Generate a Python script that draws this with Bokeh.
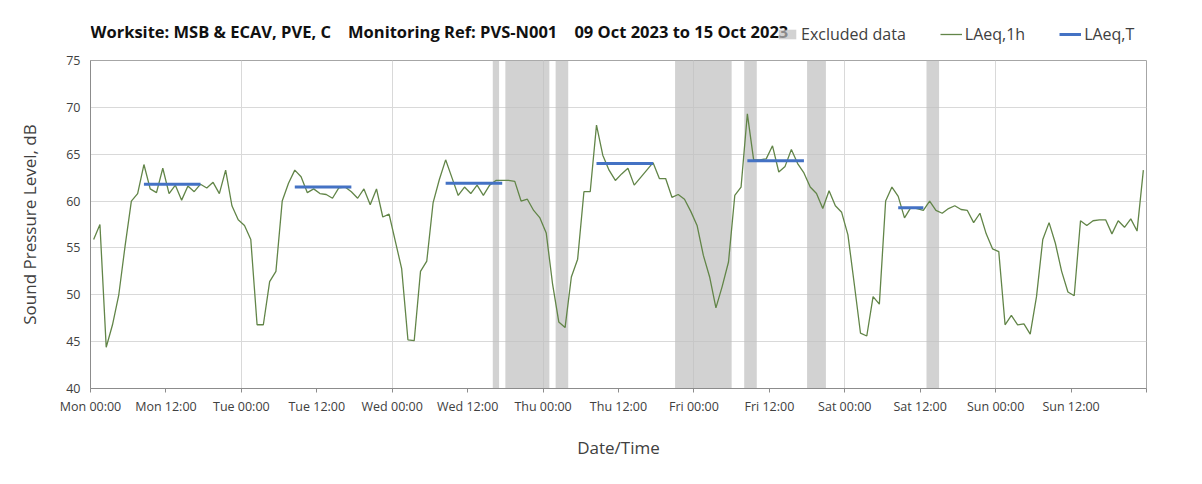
from bokeh.plotting import figure
from bokeh.models import Legend, LegendItem, FixedTicker, Range1d, ColumnDataSource, Label
from bokeh.layouts import column
from bokeh.embed import file_html
from bokeh.resources import INLINE

title_text = ("Worksite: MSB & ECAV, PVE, C\u00a0\u00a0\u00a0\u00a0Monitoring Ref: PVS-N001"
              "\u00a0\u00a0\u00a0\u00a009 Oct 2023 to 15 Oct 2023")

# Hourly LAeq,1h values (dB), Mon 00:00 .. Sun 23:00
laeq_1h = [
    55.9, 57.5, 44.4, 46.8, 50.0, 55.2, 60.0, 60.8, 63.9, 61.3, 60.9, 63.5,
    60.8, 61.7, 60.1, 61.6, 61.0, 61.8, 61.4, 62.0, 60.8, 63.3, 59.5, 58.0,
    57.4, 55.9, 46.8, 46.8, 51.4, 52.5, 60.0, 61.9, 63.3, 62.6, 60.9, 61.3,
    60.8, 60.7, 60.3, 61.4, 61.5, 61.0, 60.3, 61.3, 59.6, 61.3, 58.3, 58.6,
    55.7, 52.8, 45.2, 45.1, 52.5, 53.6, 59.8, 62.3, 64.4, 62.5, 60.6, 61.5,
    60.8, 61.7, 60.6, 61.7, 62.2, 62.2, 62.2, 62.1, 60.0, 60.2, 59.0, 58.2,
    56.6, 51.2, 47.1, 46.5, 51.9, 53.8, 61.0, 61.0, 68.1, 64.9, 63.3, 62.2,
    62.9, 63.5, 61.7, 62.5, 63.3, 64.1, 62.4, 62.4, 60.4, 60.7, 60.2, 58.9,
    57.4, 54.2, 51.9, 48.6, 50.9, 53.5, 60.6, 61.5, 69.3, 64.4, 64.4, 64.5,
    65.9, 63.1, 63.7, 65.5, 64.0, 63.0, 61.5, 60.8, 59.2, 61.1, 59.5, 58.8,
    56.4, 51.2, 45.9, 45.6, 49.8, 49.0, 60.0, 61.5, 60.5, 58.2, 59.3, 59.2,
    59.0, 60.0, 59.0, 58.7, 59.2, 59.5, 59.1, 59.0, 57.7, 58.7, 56.5, 54.9,
    54.6, 46.8, 47.8, 46.8, 46.9, 45.8, 49.8, 55.9, 57.7, 55.5, 52.5, 50.3,
    49.9, 57.9, 57.4, 57.9, 58.0, 58.0, 56.5, 57.9, 57.2, 58.1, 56.8, 63.3,
]

# LAeq,T periods (hour index of first and last hour) and values
laeq_t_start = [8, 32, 56, 80, 104, 128]
laeq_t_end = [17, 41, 65, 89, 113, 132]
laeq_t_value = [61.8, 61.5, 61.9, 64.0, 64.3, 59.3]

# Excluded data periods (hours from Mon 00:00, start and end)
excl_start = [64, 66, 74, 93, 104, 114, 133]
excl_end = [65, 73, 76, 102, 106, 117, 135]

tick_hours = [0, 12, 24, 36, 48, 60, 72, 84, 96, 108, 120, 132, 144, 156, 168]
tick_labels = ["Mon 00:00", "Mon 12:00", "Tue 00:00", "Tue 12:00", "Wed 00:00",
               "Wed 12:00", "Thu 00:00", "Thu 12:00", "Fri 00:00", "Fri 12:00",
               "Sat 00:00", "Sat 12:00", "Sun 00:00", "Sun 12:00", ""]
y_ticks = [40, 45, 50, 55, 60, 65, 70, 75]
legend_labels = ["Excluded data", "LAeq,1h", "LAeq,T"]

FONT = "Open Sans"
TXT = "#404040"
GREEN = "#628548"
BLUE = "#4472c4"
GREY_FILL = "#bfbfbf"

W = 1194
HEAD_H = 52

ex_src = ColumnDataSource(dict(left=excl_start, right=excl_end,
                               bottom=[40] * len(excl_start), top=[75] * len(excl_start)))
xs = [i + 0.5 for i in range(len(laeq_1h))]
t_x0 = [s + 0.5 for s in laeq_t_start]
t_x1 = [e + 0.5 for e in laeq_t_end]

# ---------------- header (title + legend) ----------------
head = figure(width=W, height=HEAD_H, output_backend="svg", toolbar_location=None,
              x_range=Range1d(0, 168), y_range=Range1d(40, 75),
              min_border=0, title=None)
head.axis.visible = False
head.grid.visible = False
head.outline_line_color = None
head.border_fill_color = "white"
head.background_fill_color = "white"

head.add_layout(Label(x=0, y=HEAD_H - 31, x_units="screen", y_units="screen",
                      text=title_text, text_font=FONT, text_font_size="16.5px",
                      text_font_style="bold", text_color="#111111",
                      text_baseline="middle", text_align="left"))

# legend proxies (hidden copies of the chart's renderers)
h_ex = head.quad(left="left", right="right", bottom="bottom", top="top", source=ex_src,
                 fill_color=GREY_FILL, fill_alpha=0.7, line_color=None, visible=False)
h_line = head.line(xs, laeq_1h, line_color=GREEN, line_width=1.3, visible=False)
h_t = head.segment(x0=t_x0, y0=laeq_t_value, x1=t_x1, y1=laeq_t_value,
                   line_color=BLUE, line_width=3, visible=False)

legend = Legend(items=[LegendItem(label=legend_labels[0], renderers=[h_ex]),
                       LegendItem(label=legend_labels[1], renderers=[h_line]),
                       LegendItem(label=legend_labels[2], renderers=[h_t])],
                orientation="horizontal", location=(686, HEAD_H - 45),
                padding=0, margin=0, spacing=34, label_standoff=3,
                glyph_width=22, glyph_height=12, label_height=18,
                background_fill_alpha=0, border_line_alpha=0,
                inactive_fill_alpha=0,
                label_text_font=FONT, label_text_font_size="16px",
                label_text_color=TXT)
head.add_layout(legend)

# ---------------- main chart ----------------
p = figure(width=W, height=476 - HEAD_H, output_backend="svg", toolbar_location=None,
           x_range=Range1d(0, 168), y_range=Range1d(40, 75), title=None,
           min_border_left=90, min_border_right=48, min_border_top=8,
           min_border_bottom=88)

p.quad(left="left", right="right", bottom="bottom", top="top", source=ex_src,
       fill_color=GREY_FILL, fill_alpha=0.7, line_color=None)
p.line(xs, laeq_1h, line_color=GREEN, line_width=1.3)
p.segment(x0=t_x0, y0=laeq_t_value, x1=t_x1, y1=laeq_t_value,
          line_color=BLUE, line_width=3)

p.xaxis.ticker = FixedTicker(ticks=tick_hours)
p.xaxis.major_label_overrides = {h: l for h, l in zip(tick_hours, tick_labels)}
p.xaxis.minor_tick_line_color = None
p.xaxis.major_tick_out = 4
p.xaxis.major_tick_in = 0
p.xaxis.major_label_standoff = 5
p.xaxis.axis_label = "Date/Time"
p.xaxis.axis_label_standoff = 18

p.yaxis.ticker = FixedTicker(ticks=y_ticks)
p.yaxis.minor_tick_line_color = None
p.yaxis.major_tick_out = 0
p.yaxis.major_tick_in = 0
p.yaxis.major_label_standoff = 10
p.yaxis.axis_label = "Sound Pressure Level, dB"
p.yaxis.axis_label_standoff = 22

for ax in (p.xaxis, p.yaxis):
    ax.axis_line_color = "#8c8c8c"
    ax.major_tick_line_color = "#8c8c8c"
    ax.major_label_text_font = FONT
    ax.major_label_text_font_size = "12.5px"
    ax.major_label_text_color = TXT
    ax.axis_label_text_font = FONT
    ax.axis_label_text_font_style = "normal"
    ax.axis_label_text_color = TXT
    ax.axis_label_text_font_size = "17px"

p.xgrid.ticker = FixedTicker(ticks=[0, 24, 48, 72, 96, 120, 144, 168])
p.xgrid.grid_line_color = "#d9d9d9"
p.ygrid.ticker = FixedTicker(ticks=y_ticks)
p.ygrid.grid_line_color = "#d9d9d9"
p.outline_line_color = "#a6a6a6"
p.background_fill_color = "white"
p.border_fill_color = "white"

layout = column(head, p, spacing=0)
open("out.html", "w").write(file_html(layout, INLINE))
